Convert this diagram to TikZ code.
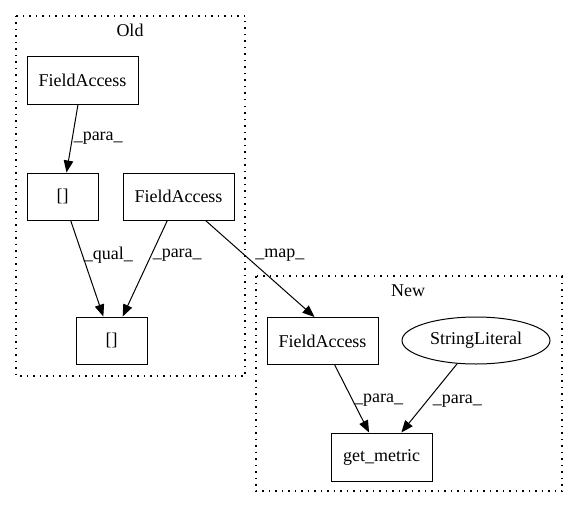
\documentclass[tikz,border=0pt]{standalone}
\usepackage{fontspec}
\setmainfont{Liberation Serif}
\usetikzlibrary{arrows.meta,shapes.geometric}

\begin{document}
\begin{tikzpicture}[
        x=1pt, y=-1pt,
        every node/.style = {font=\fontsize{18}{21}\selectfont},
        box/.style = {shape=rectangle, draw, line width=1pt, minimum height=47pt, inner sep=0pt},
        oval/.style = {shape=ellipse, draw, line width=1pt, minimum width=148pt, minimum height=47pt, inner sep=0pt},
        lbl/.style = {inner sep=1pt, right},
        cluster/.style = {line width=1.2pt, dash pattern=on 1.5pt off 5pt},
        edge/.style = {line width=1pt, -{Triangle[length=12pt,width=9.5pt]}}
    ]
        \useasboundingbox (0,0) rectangle (577,508);

        % Old
        \draw[cluster] (16,16) rectangle (245,376);
        \node (oldtitle) at (130,30) {Old};
        \node[box, minimum width=111pt] (fa1) at (82.5,80.5) {FieldAccess};
        \node[box, minimum width=71pt] (idx1) at (62.5,196.5) {[]};
        \node[box, minimum width=111pt] (fa2) at (178.5,196.5) {FieldAccess};
        \node[box, minimum width=71pt] (idx2) at (111.5,340.5) {[]};

        % New
        \draw[cluster] (256,276) rectangle (562,491);
        \node (newtitle) at (408,291) {New};
        \node[box, minimum width=111pt] (fa3) at (322.5,341) {FieldAccess};
        \node[oval] (str) at (476,340.5) {StringLiteral};
        \node[box, minimum width=101pt, minimum height=48pt] (getm) at (381.5,457) {get\_metric};

        \draw[edge] ([xshift=-4.5pt]fa1.south) -- ([xshift=4pt]idx1.north) node[lbl, pos=.5] {\_para\_};
        \draw[edge] (idx1) -- (idx2) node[lbl, pos=.36] {\_qual\_};
        \draw[edge] (fa2) -- (idx2) node[lbl, pos=.36] {\_para\_};
        \draw[edge] (fa2) -- ([xshift=-8pt]fa3.north) node[lbl, pos=.36, xshift=9pt] {\_map\_};
        \draw[edge] (fa3) -- (getm) node[lbl, pos=.52] {\_para\_};
        \draw[edge] (str) -- (getm) node[lbl, pos=.55, xshift=5pt] {\_para\_};
    \end{tikzpicture}
\end{document}
